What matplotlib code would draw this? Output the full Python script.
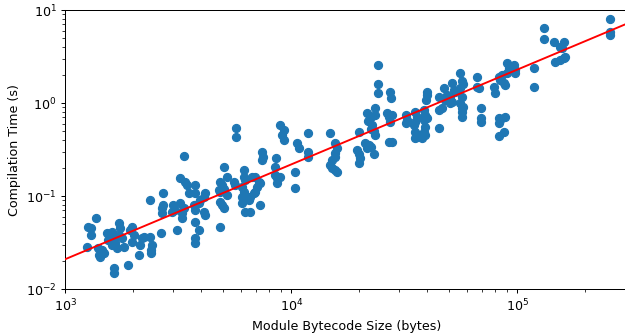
import numpy as np
import matplotlib
matplotlib.use("Agg")
import matplotlib.pyplot as plt

# Module bytecode size (bytes)
bytecode_size = [
    1250, 1260, 1300, 1300, 1370, 1400, 1450, 1410, 1480, 1430,
    1530, 1610, 1550, 1640, 1660, 1610, 1730, 1750, 1720, 1780,
    1810, 1690, 1970, 1940, 1970, 2010, 2150, 2110, 2180, 2220,
    2380, 2420, 2400, 2400, 1650, 1650, 1890, 2380, 2660, 2680,
    2710, 2690, 3010, 3070, 2970, 3120, 3290, 3290, 2700, 3340,
    3230, 3400, 3460, 3510, 3760, 3760, 4160, 4090, 3960, 3890,
    3700, 3760, 3230, 3340, 4090, 4160, 3760, 3890, 3760, 3760,
    5020, 4850, 4940, 5190, 4770, 4850, 5020, 5190, 4850, 4940,
    5020, 4850, 5560, 5650, 6050, 6150, 6150, 6150, 6260, 6700,
    6930, 7170, 7290, 6050, 6150, 6050, 6260, 6590, 6470, 6590,
    7050, 6930, 6810, 7290, 8500, 8500, 8640, 8640, 8940, 5710,
    5710, 7420, 7500, 7420, 8580, 8940, 9250, 9100, 9250, 10600,
    10800, 11900, 11900, 11900, 10400, 10400, 14900, 15600, 15900, 15600,
    15600, 15100, 14900, 15100, 15600, 15900, 19900, 21600, 22400, 21900,
    22800, 22400, 23500, 23100, 23500, 21200, 22000, 22600, 21600, 23100,
    19600, 20000, 20200, 19900, 26500, 27000, 27900, 27400, 27000, 27900,
    24200, 24200, 24200, 27400, 27700, 23500, 32000, 32500, 32000, 35400,
    36000, 35400, 34800, 35400, 36000, 35400, 36600, 38500, 39200, 38500,
    39900, 39200, 38500, 39200, 37900, 39900, 39900, 39400, 44900, 44900,
    46400, 44900, 47200, 48900, 48000, 51400, 50500, 51400, 52200, 50500,
    56000, 56900, 57700, 56000, 53200, 56900, 56000, 56900, 57700, 56900,
    56900, 66300, 66300, 67400, 69300, 69300, 69300, 78500, 79400, 82700,
    85600, 84100, 87000, 88500, 90000, 91500, 96300, 98000, 98000, 82700,
    84100, 88500, 82700, 87000, 82700, 119000, 119000, 131000, 131000, 145000,
    160000, 155000, 158000, 147000, 155000, 160000, 163000, 258000, 258000, 258000,
    90000,
]

# Compilation time (s)
compile_time = [
    0.0285, 0.0468, 0.0449, 0.0381, 0.0584, 0.0274, 0.0263, 0.0232, 0.0242, 0.0223,
    0.0397, 0.0407, 0.0336, 0.0351, 0.0310, 0.0297, 0.0509, 0.0449, 0.0381, 0.0351,
    0.0285, 0.0274, 0.0468, 0.0431, 0.0323, 0.0381, 0.0297, 0.0232, 0.0351, 0.0365,
    0.0365, 0.0297, 0.0263, 0.0242, 0.0169, 0.0148, 0.0181, 0.0906, 0.0397, 0.0743,
    0.0800, 0.0657, 0.0800, 0.0707, 0.0678, 0.0431, 0.0652, 0.0576, 0.107, 0.269,
    0.156, 0.142, 0.131, 0.107, 0.131, 0.107, 0.107, 0.0983, 0.0906, 0.0834,
    0.0800, 0.0707, 0.0834, 0.0737, 0.0678, 0.0625, 0.0529, 0.0431, 0.0351, 0.0310,
    0.207, 0.142, 0.131, 0.161, 0.116, 0.111, 0.118, 0.1025, 0.0869, 0.0800,
    0.0737, 0.0468, 0.142, 0.131, 0.126, 0.111, 0.190, 0.161, 0.149, 0.161,
    0.161, 0.142, 0.137, 0.0983, 0.0906, 0.0834, 0.0678, 0.0678, 0.0906, 0.0983,
    0.126, 0.111, 0.107, 0.0800, 0.207, 0.168, 0.155, 0.137, 0.161, 0.535,
    0.434, 0.300, 0.265, 0.244, 0.254, 0.580, 0.513, 0.453, 0.400, 0.369,
    0.326, 0.479, 0.300, 0.265, 0.183, 0.123, 0.472, 0.369, 0.326, 0.288,
    0.265, 0.244, 0.215, 0.199, 0.190, 0.183, 0.491, 0.775, 0.707, 0.641,
    0.580, 0.532, 0.743, 0.500, 0.453, 0.369, 0.353, 0.336, 0.326, 0.283,
    0.312, 0.283, 0.254, 0.225, 0.775, 0.712, 0.743, 0.629, 0.384, 0.384,
    2.56, 1.59, 1.27, 1.32, 1.12, 0.88, 0.743, 0.657, 0.605, 0.81,
    0.712, 0.629, 0.580, 0.491, 0.434, 0.417, 0.453, 0.84, 0.743, 0.657,
    0.685, 0.556, 0.491, 0.453, 0.417, 1.32, 1.22, 1.08, 0.535, 1.17,
    0.88, 0.84, 1.44, 1.22, 1.08, 1.03, 0.99, 1.63, 1.38, 1.17,
    2.13, 1.72, 1.60, 1.45, 1.32, 1.17, 0.99, 0.88, 0.91, 0.81,
    0.712, 1.92, 1.50, 1.44, 0.89, 0.685, 0.629, 1.50, 1.27, 1.92,
    2.00, 1.77, 1.63, 1.56, 2.67, 2.36, 2.56, 2.26, 2.09, 0.685,
    0.657, 0.712, 0.605, 0.491, 0.442, 2.36, 1.48, 6.36, 4.84, 4.56,
    4.56, 4.03, 3.87, 2.78, 2.90, 3.02, 3.15, 7.94, 5.84, 5.38,
    2.09,
]

# Fitted power law: log10(t) = slope*log10(size) + intercept
fit_slope = 1.019
fit_intercept = -4.735

x_limits = (1e3, 3.08e5)
y_limits = (1e-2, 1e1)

DPI = 91
fig = plt.figure(figsize=(625 / DPI, 335 / DPI), dpi=DPI)
ax = fig.add_axes([0.1045, 0.137, 0.9, 0.833])

ax.scatter(bytecode_size, compile_time, color="C0", s=40, zorder=2)

xs = np.logspace(np.log10(x_limits[0]), np.log10(x_limits[1]), 200)
ax.plot(xs, 10 ** (fit_slope * np.log10(xs) + fit_intercept), color="red", lw=1.5, zorder=3)

ax.set_xscale("log")
ax.set_yscale("log")
ax.set_xlim(*x_limits)
ax.set_ylim(*y_limits)
ax.set_xlabel("Module Bytecode Size (bytes)")
ax.set_ylabel("Compilation Time (s)")

fig.savefig("out.png", dpi=DPI)
